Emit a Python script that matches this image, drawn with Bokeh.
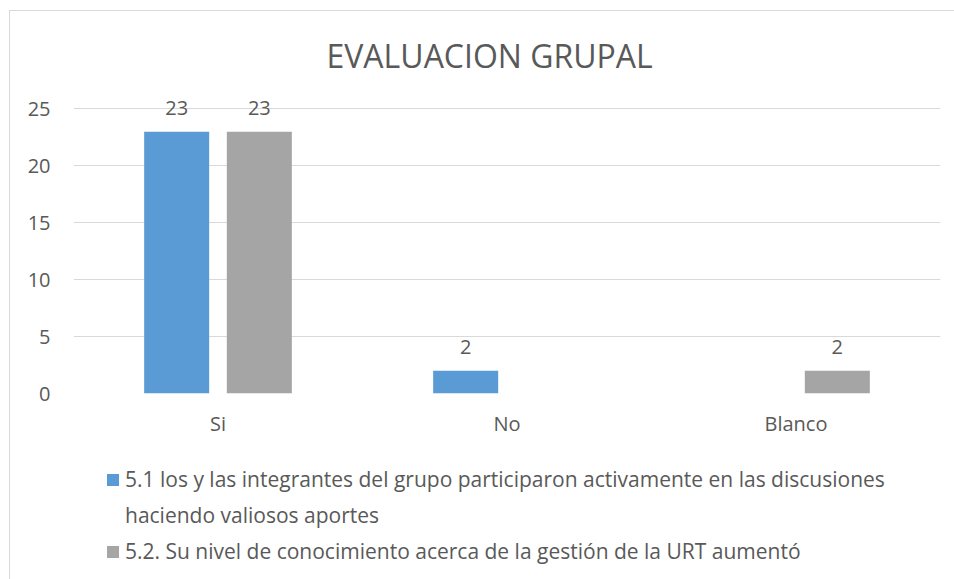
from bokeh.plotting import figure
from bokeh.layouts import column
from bokeh.core.properties import value
from bokeh.models import (ColumnDataSource, FactorRange, Range1d, LabelSet,
                          Legend, LegendItem, FixedTicker, InlineStyleSheet)
from bokeh.transform import dodge
from bokeh.embed import file_html
from bokeh.resources import INLINE

# ---- data ----
categories = ["Si", "No", "Blanco"]
serie_51 = [23, 2, 0]
serie_52 = [23, 0, 2]
label_51 = ["23", "2", ""]
label_52 = ["23", "", "2"]
name_51_line1 = "5.1 los y las integrantes del grupo participaron activamente en las discusiones"
name_51_line2 = "haciendo valiosos aportes"
name_52 = "5.2. Su nivel de conocimiento acerca de la gestión de la URT aumentó"
title_text = "EVALUACION GRUPAL"
y_ticks = [0, 5, 10, 15, 20, 25]

FONT = "Open Sans"
TXT = "#595959"
C1 = "#5B9BD5"
C2 = "#A5A5A5"

src = ColumnDataSource(dict(cat=categories, s1=serie_51, s2=serie_52,
                            l1=label_51, l2=label_52))

# ---------------- chart ----------------
p = figure(x_range=FactorRange(*categories, range_padding=0),
           y_range=Range1d(0, 26.8),
           width=944, height=453, output_backend="svg", toolbar_location=None,
           min_border_left=73, min_border_right=4, min_border_top=88,
           min_border_bottom=60, title=title_text)
p.outline_line_color = None
p.background_fill_color = "white"
p.border_fill_color = "white"

p.title.align = "left"
p.title.offset = 253
p.title.text_font = FONT
p.title.text_font_size = "32px"
p.title.text_font_style = "normal"
p.title.text_color = TXT
p.title.standoff = 24

p.vbar(x=dodge("cat", -0.143, range=p.x_range), top="s1", width=0.225,
       source=src, fill_color=C1, line_color=None)
p.vbar(x=dodge("cat", 0.143, range=p.x_range), top="s2", width=0.225,
       source=src, fill_color=C2, line_color=None)

for col, off, top in (("l1", -0.143, "s1"), ("l2", 0.143, "s2")):
    p.add_layout(LabelSet(x=dodge("cat", off, range=p.x_range), y=top,
                          text=col, source=src, y_offset=24, text_align="center",
                          text_baseline="middle", text_font=value(FONT),
                          text_font_size=value("20px"), text_color=TXT))

p.yaxis.ticker = FixedTicker(ticks=y_ticks)
p.yaxis.axis_line_color = None
p.yaxis.major_tick_line_color = None
p.yaxis.minor_tick_line_color = None
p.yaxis.major_label_standoff = 17
p.yaxis.major_label_text_font = FONT
p.yaxis.major_label_text_font_size = "20px"
p.yaxis.major_label_text_color = TXT

p.xaxis.axis_line_color = None
p.xaxis.major_tick_line_color = None
p.xaxis.minor_tick_line_color = None
p.xaxis.major_label_standoff = 10
p.xaxis.major_label_text_font = FONT
p.xaxis.major_label_text_font_size = "20px"
p.xaxis.major_label_text_color = TXT

p.xgrid.grid_line_color = None
p.ygrid.grid_line_color = "#D9D9D9"
p.ygrid.grid_line_width = 1

# ---------------- legend strip ----------------
q = figure(x_range=FactorRange(*categories), y_range=Range1d(0, 30),
           width=944, height=118, output_backend="svg", toolbar_location=None,
           x_axis_type=None, y_axis_type=None,
           min_border_left=73, min_border_right=4, min_border_top=0,
           min_border_bottom=0)
q.outline_line_color = None
q.grid.grid_line_color = None
q.background_fill_color = "white"
q.border_fill_color = "white"
g1 = q.vbar(x="cat", top="s1", width=0.225, source=src, fill_color=C1,
            line_color=None, visible=False)
g0 = q.vbar(x="cat", top="s1", width=0.225, source=src, fill_alpha=0,
            line_alpha=0, visible=False)
g2 = q.vbar(x="cat", top="s2", width=0.225, source=src, fill_color=C2,
            line_color=None, visible=False)

legend = Legend(items=[LegendItem(label=name_51_line1, renderers=[g1]),
                       LegendItem(label=name_51_line2, renderers=[g0]),
                       LegendItem(label=name_52, renderers=[g2])],
                location=(32, 6), orientation="vertical",
                background_fill_alpha=0, border_line_color=None,
                label_text_font=FONT, label_text_font_size="21px",
                label_text_color=TXT,
                glyph_width=15, glyph_height=15, label_standoff=5,
                spacing=8, padding=0, margin=0)
q.add_layout(legend)

frame_css = InlineStyleSheet(css="""
:host { position: relative; }
:host::after {
  content: ""; position: absolute; left: 9px; top: 10px; width: 2000px; height: 2000px;
  border-top: 1px solid #D9D9D9; border-left: 1px solid #D9D9D9;
  pointer-events: none; z-index: 5;
}
""")

layout = column(p, q, spacing=0, stylesheets=[frame_css])
open("out.html", "w").write(file_html(layout, INLINE))
